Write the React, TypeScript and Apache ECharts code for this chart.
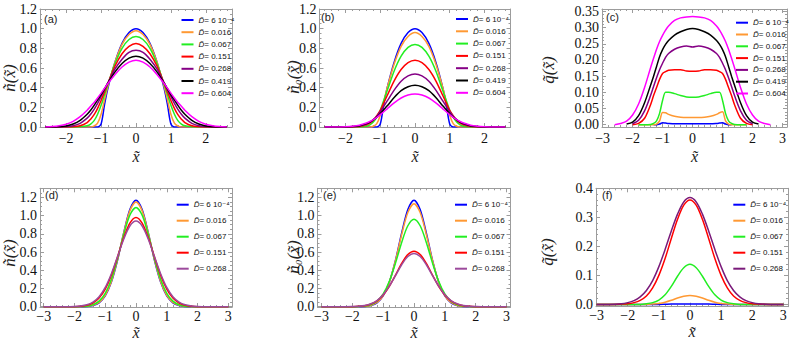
import React, { useEffect, useRef } from 'react';
import * as echarts from 'echarts';

// ---------- data ----------
const X_TOP = [-2.6, -2.4, -2.2, -2.0, -1.8, -1.6, -1.4, -1.3, -1.2, -1.1, -1.0, -0.9, -0.8, -0.6, -0.4, -0.2, 0, 0.2, 0.4, 0.6, 0.8, 0.9, 1.0, 1.1, 1.2, 1.3, 1.4, 1.6, 1.8, 2.0, 2.2, 2.4, 2.6];
const X_BOT = [-3.0, -2.6, -2.2, -2.0, -1.8, -1.6, -1.4, -1.2, -1.0, -0.8, -0.6, -0.4, -0.2, 0, 0.2, 0.4, 0.6, 0.8, 1.0, 1.2, 1.4, 1.6, 1.8, 2.0, 2.2, 2.6, 3.0];

const LABELS_TOP = ['D̃= 6 10⁻⁴', 'D̃= 0.016', 'D̃= 0.067', 'D̃= 0.151', 'D̃= 0.268', 'D̃= 0.419', 'D̃= 0.604'];
const LABELS_BOT = ['D̃= 6 10⁻⁴', 'D̃= 0.016', 'D̃= 0.067', 'D̃= 0.151', 'D̃= 0.268'];

// (a) density n(x)
const A_BLUE = [0, 0, 0, 0, 0, 0, 0, 0, 0, 0, 0.03, 0.23, 0.40, 0.66, 0.85, 0.96, 1.0, 0.96, 0.85, 0.66, 0.40, 0.23, 0.03, 0, 0, 0, 0, 0, 0, 0, 0, 0, 0];
const A_ORANGE = [0, 0, 0, 0, 0, 0, 0, 0, 0.01, 0.04, 0.13, 0.28, 0.42, 0.66, 0.84, 0.94, 0.98, 0.94, 0.84, 0.66, 0.42, 0.28, 0.13, 0.04, 0.01, 0, 0, 0, 0, 0, 0, 0, 0];
const A_GREEN = [0, 0, 0, 0, 0, 0.002, 0.012, 0.03, 0.065, 0.13, 0.22, 0.33, 0.44, 0.645, 0.80, 0.89, 0.92, 0.89, 0.80, 0.645, 0.44, 0.33, 0.22, 0.13, 0.065, 0.03, 0.012, 0.002, 0, 0, 0, 0, 0];
const A_RED = [0, 0, 0, 0, 0.002, 0.012, 0.045, 0.08, 0.125, 0.19, 0.27, 0.36, 0.45, 0.62, 0.745, 0.82, 0.85, 0.82, 0.745, 0.62, 0.45, 0.36, 0.27, 0.19, 0.125, 0.08, 0.045, 0.012, 0.002, 0, 0, 0, 0];
const A_PURPLE = [0, 0, 0, 0.003, 0.012, 0.037, 0.09, 0.13, 0.18, 0.24, 0.31, 0.38, 0.45, 0.59, 0.69, 0.76, 0.78, 0.76, 0.69, 0.59, 0.45, 0.38, 0.31, 0.24, 0.18, 0.13, 0.09, 0.037, 0.012, 0.003, 0, 0, 0];
const A_BLACK = [0, 0, 0.003, 0.01, 0.03, 0.068, 0.13, 0.17, 0.22, 0.275, 0.33, 0.39, 0.45, 0.56, 0.645, 0.70, 0.72, 0.70, 0.645, 0.56, 0.45, 0.39, 0.33, 0.275, 0.22, 0.17, 0.13, 0.068, 0.03, 0.01, 0.003, 0, 0];
const A_MAGENTA = [0, 0.004, 0.012, 0.028, 0.058, 0.105, 0.17, 0.21, 0.25, 0.295, 0.345, 0.395, 0.445, 0.535, 0.61, 0.66, 0.68, 0.66, 0.61, 0.535, 0.445, 0.395, 0.345, 0.295, 0.25, 0.21, 0.17, 0.105, 0.058, 0.028, 0.012, 0.004, 0];

// (b) condensate n0(x)
const B_BLUE = [0, 0, 0, 0, 0, 0, 0, 0, 0, 0, 0.03, 0.23, 0.40, 0.66, 0.85, 0.96, 1.0, 0.96, 0.85, 0.66, 0.40, 0.23, 0.03, 0, 0, 0, 0, 0, 0, 0, 0, 0, 0];
const B_ORANGE = [0, 0, 0, 0, 0, 0, 0, 0, 0.008, 0.035, 0.12, 0.26, 0.40, 0.64, 0.82, 0.92, 0.96, 0.92, 0.82, 0.64, 0.40, 0.26, 0.12, 0.035, 0.008, 0, 0, 0, 0, 0, 0, 0, 0];
const B_GREEN = [0, 0, 0, 0, 0, 0.001, 0.008, 0.022, 0.05, 0.10, 0.17, 0.27, 0.37, 0.57, 0.72, 0.81, 0.84, 0.81, 0.72, 0.57, 0.37, 0.27, 0.17, 0.10, 0.05, 0.022, 0.008, 0.001, 0, 0, 0, 0, 0];
const B_RED = [0, 0, 0, 0, 0.001, 0.005, 0.022, 0.04, 0.07, 0.115, 0.17, 0.245, 0.32, 0.47, 0.585, 0.655, 0.68, 0.655, 0.585, 0.47, 0.32, 0.245, 0.17, 0.115, 0.07, 0.04, 0.022, 0.005, 0.001, 0, 0, 0, 0];
const B_PURPLE = [0, 0, 0, 0, 0.002, 0.01, 0.03, 0.048, 0.075, 0.11, 0.155, 0.21, 0.265, 0.375, 0.465, 0.52, 0.54, 0.52, 0.465, 0.375, 0.265, 0.21, 0.155, 0.11, 0.075, 0.048, 0.03, 0.01, 0.002, 0, 0, 0, 0];
const B_BLACK = [0, 0, 0, 0.001, 0.004, 0.013, 0.034, 0.05, 0.072, 0.10, 0.135, 0.175, 0.215, 0.30, 0.37, 0.41, 0.425, 0.41, 0.37, 0.30, 0.215, 0.175, 0.135, 0.10, 0.072, 0.05, 0.034, 0.013, 0.004, 0.001, 0, 0, 0];
const B_MAGENTA = [0, 0, 0.001, 0.002, 0.007, 0.018, 0.04, 0.056, 0.075, 0.098, 0.125, 0.155, 0.185, 0.245, 0.295, 0.325, 0.335, 0.325, 0.295, 0.245, 0.185, 0.155, 0.125, 0.098, 0.075, 0.056, 0.04, 0.018, 0.007, 0.002, 0.001, 0, 0];

// (c) depletion q(x)
const C_BLUE = [null, null, null, null, null, null, null, 0, 0, 0.002, 0.006, 0.005, 0.004, 0.003, 0.003, 0.003, 0.003, 0.003, 0.003, 0.003, 0.004, 0.005, 0.006, 0.002, 0, 0, null, null, null, null, null, null, null];
const C_ORANGE = [null, null, null, null, 0, 0, 0, 0, 0.002, 0.012, 0.038, 0.037, 0.032, 0.026, 0.023, 0.022, 0.022, 0.022, 0.023, 0.026, 0.032, 0.037, 0.04, 0.012, 0.002, 0, 0, 0, 0, null, null, null, null];
const C_GREEN = [null, null, null, null, 0, 0, 0.001, 0.004, 0.012, 0.035, 0.075, 0.10, 0.10, 0.096, 0.09, 0.086, 0.085, 0.086, 0.09, 0.096, 0.10, 0.10, 0.075, 0.035, 0.012, 0.004, 0.001, 0, 0, null, null, null, null];
const C_RED = [null, null, null, 0, 0.004, 0.02, 0.062, 0.09, 0.115, 0.14, 0.158, 0.164, 0.168, 0.17, 0.17, 0.166, 0.165, 0.166, 0.17, 0.17, 0.168, 0.164, 0.158, 0.14, 0.115, 0.09, 0.062, 0.02, 0.004, 0, null, null, null];
const C_PURPLE = [null, null, null, 0.003, 0.014, 0.043, 0.09, 0.118, 0.145, 0.17, 0.19, 0.208, 0.22, 0.233, 0.24, 0.243, 0.24, 0.243, 0.24, 0.233, 0.22, 0.208, 0.19, 0.17, 0.145, 0.118, 0.09, 0.043, 0.014, 0.003, null, null, null];
const C_BLACK = [null, null, 0.002, 0.008, 0.028, 0.068, 0.122, 0.15, 0.18, 0.21, 0.232, 0.248, 0.26, 0.277, 0.287, 0.294, 0.297, 0.294, 0.287, 0.277, 0.26, 0.248, 0.232, 0.21, 0.18, 0.15, 0.122, 0.068, 0.028, 0.008, 0.002, null, null];
const C_MAGENTA = [0, 0.004, 0.011, 0.03, 0.064, 0.115, 0.176, 0.205, 0.233, 0.257, 0.276, 0.292, 0.305, 0.322, 0.33, 0.333, 0.334, 0.333, 0.33, 0.322, 0.305, 0.292, 0.276, 0.257, 0.233, 0.205, 0.176, 0.115, 0.064, 0.03, 0.011, 0.004, 0];

// (d) density n(x)
const D_BLUE = [0, 0, 0, 0, 0, 0.003, 0.013, 0.043, 0.118, 0.27, 0.51, 0.81, 1.067, 1.17, 1.067, 0.81, 0.51, 0.27, 0.118, 0.043, 0.013, 0.003, 0, 0, 0, 0, 0];
const D_ORANGE = [0, 0, 0, 0, 0.001, 0.004, 0.015, 0.047, 0.124, 0.277, 0.517, 0.806, 1.052, 1.15, 1.052, 0.806, 0.517, 0.277, 0.124, 0.047, 0.015, 0.004, 0.001, 0, 0, 0, 0];
const D_GREEN = [0, 0, 0, 0, 0.002, 0.006, 0.021, 0.061, 0.147, 0.302, 0.53, 0.791, 1.006, 1.09, 1.006, 0.791, 0.53, 0.302, 0.147, 0.061, 0.021, 0.006, 0.002, 0, 0, 0, 0];
const D_RED = [0, 0, 0, 0.001, 0.005, 0.015, 0.041, 0.095, 0.194, 0.347, 0.547, 0.756, 0.918, 0.98, 0.918, 0.756, 0.547, 0.347, 0.194, 0.095, 0.041, 0.015, 0.005, 0.001, 0, 0, 0];
const D_PURPLE = [0, 0, 0.001, 0.002, 0.008, 0.021, 0.051, 0.11, 0.212, 0.363, 0.55, 0.741, 0.886, 0.94, 0.886, 0.741, 0.55, 0.363, 0.212, 0.11, 0.051, 0.021, 0.008, 0.002, 0.001, 0, 0];

// (e) condensate n0(x)
const E_BLUE = [0, 0, 0, 0, 0, 0.003, 0.013, 0.043, 0.118, 0.27, 0.51, 0.81, 1.067, 1.17, 1.067, 0.81, 0.51, 0.27, 0.118, 0.043, 0.013, 0.003, 0, 0, 0, 0, 0];
const E_ORANGE = [0, 0, 0, 0, 0.001, 0.004, 0.014, 0.046, 0.122, 0.271, 0.507, 0.791, 1.034, 1.13, 1.034, 0.791, 0.507, 0.271, 0.122, 0.046, 0.014, 0.004, 0.001, 0, 0, 0, 0];
const E_GREEN = [0, 0, 0, 0, 0.002, 0.007, 0.022, 0.06, 0.14, 0.28, 0.48, 0.706, 0.889, 0.96, 0.889, 0.706, 0.48, 0.28, 0.14, 0.06, 0.022, 0.007, 0.002, 0, 0, 0, 0];
const E_RED = [0, 0, 0, 0.001, 0.004, 0.011, 0.029, 0.064, 0.128, 0.224, 0.348, 0.475, 0.573, 0.61, 0.573, 0.475, 0.348, 0.224, 0.128, 0.064, 0.029, 0.011, 0.004, 0.001, 0, 0, 0];
const E_PURPLE = [0, 0, 0, 0.002, 0.005, 0.013, 0.032, 0.068, 0.132, 0.226, 0.342, 0.461, 0.551, 0.585, 0.551, 0.461, 0.342, 0.226, 0.132, 0.068, 0.032, 0.013, 0.005, 0.002, 0, 0, 0];

// (f) depletion q(x)
const F_BLUE = [0, 0, 0, 0, 0, 0, 0, 0, 0, 0.0005, 0.001, 0.001, 0.001, 0.001, 0.001, 0.001, 0.001, 0.0005, 0, 0, 0, 0, 0, 0, 0, 0, 0];
const F_ORANGE = [0, 0, 0, 0, 0, 0, 0, 0.0013, 0.0034, 0.0075, 0.014, 0.022, 0.028, 0.031, 0.028, 0.022, 0.014, 0.0075, 0.0034, 0.0013, 0, 0, 0, 0, 0, 0, 0];
const F_GREEN = [0, 0, 0, 0, 0, 0, 0.002, 0.006, 0.015, 0.033, 0.062, 0.097, 0.126, 0.138, 0.126, 0.097, 0.062, 0.033, 0.015, 0.006, 0.002, 0, 0, 0, 0, 0, 0];
const F_RED = [0, 0, 0.001, 0.002, 0.006, 0.014, 0.029, 0.057, 0.10, 0.158, 0.227, 0.293, 0.342, 0.36, 0.342, 0.293, 0.227, 0.158, 0.10, 0.057, 0.029, 0.014, 0.006, 0.002, 0.001, 0, 0];
const F_PURPLE = [0, 0, 0.002, 0.006, 0.013, 0.026, 0.048, 0.082, 0.13, 0.189, 0.253, 0.311, 0.353, 0.368, 0.353, 0.311, 0.253, 0.189, 0.13, 0.082, 0.048, 0.026, 0.013, 0.006, 0.002, 0, 0];

// ticks
const X_TICKS_AB = [-2, -1, 0, 1, 2];
const X_TICKS_CF = [-3, -2, -1, 0, 1, 2, 3];
const Y_TICKS_N = [0, 0.2, 0.4, 0.6, 0.8, 1.0, 1.2];
const Y_TICKS_QC = [0, 0.05, 0.1, 0.15, 0.2, 0.25, 0.3, 0.35];
const Y_TICKS_QF = [0, 0.1, 0.2, 0.3, 0.4];

// ---------- styling ----------
const FRAME = '#9c9c9c';
const SERIF = 'Liberation Serif, DejaVu Serif, serif';
const SANS = 'Liberation Sans, DejaVu Sans, sans-serif';
const COL_TOP = ['#0000ff', '#ff9933', '#22ee22', '#ff0000', '#850085', '#000000', '#ff00ff'];
const COL_DE = ['#0000ff', '#ff9933', '#22ee22', '#ff0000', '#9c4a9c'];
const COL_F = ['#0000ff', '#ff9933', '#22ee22', '#ff0000', '#7a1a7a'];

type Panel = {
  key: string;
  grid: { left: number; top: number; width: number; height: number };
  x: [number, number];
  y: [number, number];
  xt: number[];
  yt: number[];
  xMinor: number;
  yMinor: number;
  dec: number;
  xs: number[];
  vals: (number | null)[][];
  colors: string[];
  labels: string[];
  legend: { left: number; top: number; gap: number };
  xNameGap: number;
  xLabelMargin: number;
  ylabel: string;
  ylabelPos: [number, number];
  letterPos: [number, number];
};

const PANELS: Panel[] = [
  {
    key: 'a', grid: { left: 40, top: 9, width: 192, height: 118 }, x: [-2.75, 2.75], y: [0, 1.2],
    xt: X_TICKS_AB, yt: Y_TICKS_N, xMinor: 0.2, yMinor: 0.05, dec: 1, xs: X_TOP,
    vals: [A_BLUE, A_ORANGE, A_GREEN, A_RED, A_PURPLE, A_BLACK, A_MAGENTA], colors: COL_TOP, labels: LABELS_TOP,
    legend: { left: 181.5, top: 15, gap: 2.2 }, xNameGap: 22, xLabelMargin: 4, ylabel: 'ñ(x̃)', ylabelPos: [9, 78], letterPos: [44, 18.5],
  },
  {
    key: 'b', grid: { left: 319.5, top: 9, width: 191, height: 118 }, x: [-2.75, 2.75], y: [0, 1.2],
    xt: X_TICKS_AB, yt: Y_TICKS_N, xMinor: 0.2, yMinor: 0.05, dec: 1, xs: X_TOP,
    vals: [B_BLUE, B_ORANGE, B_GREEN, B_RED, B_PURPLE, B_BLACK, B_MAGENTA], colors: COL_TOP, labels: LABELS_TOP,
    legend: { left: 456, top: 14, gap: 2.3 }, xNameGap: 22, xLabelMargin: 4, ylabel: 'ñ₀(x̃)', ylabelPos: [293, 77], letterPos: [321, 16.5],
  },
  {
    key: 'c', grid: { left: 602, top: 9, width: 185, height: 118 }, x: [-3.02, 3.15], y: [-0.007, 0.3574],
    xt: X_TICKS_CF, yt: Y_TICKS_QC, xMinor: 0.2, yMinor: 0.01, dec: 2, xs: X_TOP,
    vals: [C_BLUE, C_ORANGE, C_GREEN, C_RED, C_PURPLE, C_BLACK, C_MAGENTA], colors: COL_TOP, labels: LABELS_TOP,
    legend: { left: 736, top: 17.7, gap: 1.8 }, xNameGap: 22, xLabelMargin: 4, ylabel: 'q̃(x̃)', ylabelPos: [548, 70], letterPos: [606, 16.7],
  },
  {
    key: 'd', grid: { left: 40, top: 188.3, width: 192, height: 118.7 }, x: [-3.12, 3.12], y: [-0.003, 1.3],
    xt: X_TICKS_CF, yt: Y_TICKS_N, xMinor: 0.2, yMinor: 0.05, dec: 1, xs: X_BOT,
    vals: [D_BLUE, D_ORANGE, D_GREEN, D_RED, D_PURPLE], colors: COL_DE, labels: LABELS_BOT,
    legend: { left: 176.7, top: 199.7, gap: 6 }, xNameGap: 18, xLabelMargin: 2, ylabel: 'ñ(x̃)', ylabelPos: [9, 253], letterPos: [45, 195],
  },
  {
    key: 'e', grid: { left: 317.5, top: 188.3, width: 193, height: 118.7 }, x: [-3.13, 3.13], y: [-0.003, 1.3],
    xt: X_TICKS_CF, yt: Y_TICKS_N, xMinor: 0.2, yMinor: 0.05, dec: 1, xs: X_BOT,
    vals: [E_BLUE, E_ORANGE, E_GREEN, E_RED, E_PURPLE], colors: COL_DE, labels: LABELS_BOT,
    legend: { left: 455, top: 199.7, gap: 6 }, xNameGap: 18, xLabelMargin: 2, ylabel: 'ñ₀(x̃)', ylabelPos: [293, 257], letterPos: [323, 195],
  },
  {
    key: 'f', grid: { left: 596, top: 188.3, width: 192, height: 118.4 }, x: [-3.02, 3.15], y: [-0.008, 0.4],
    xt: X_TICKS_CF, yt: Y_TICKS_QF, xMinor: 0.2, yMinor: 0.02, dec: 1, xs: X_BOT,
    vals: [F_BLUE, F_ORANGE, F_GREEN, F_RED, F_PURPLE], colors: COL_F, labels: LABELS_BOT,
    legend: { left: 733.3, top: 199.7, gap: 6 }, xNameGap: 18, xLabelMargin: 2, ylabel: 'q̃(x̃)', ylabelPos: [547, 252], letterPos: [602, 195],
  },
];

function minorVals(min: number, max: number, step: number, majors: number[]) {
  const out: number[] = [];
  const start = Math.ceil(min / step - 1e-9);
  for (let k = start; k * step <= max + 1e-9; k++) {
    const v = +(k * step).toFixed(6);
    if (!majors.some((m) => Math.abs(m - v) < 1e-9)) out.push(v);
  }
  return out;
}

const TICK_RICH = { t: { fontFamily: SERIF, fontSize: 14, lineHeight: 14, color: '#111' } };
const fmtX = (v: number) => '{t|' + (v < 0 ? '−' + Math.abs(v) : String(v)) + '}';

function buildOption() {
  const grid: any[] = [];
  const xAxis: any[] = [];
  const yAxis: any[] = [];
  const series: any[] = [];
  const legend: any[] = [];
  const graphic: any[] = [];

  PANELS.forEach((p, i) => {
    grid.push({ ...p.grid, containLabel: false, outerBoundsMode: 'none' });
    const tickStyle = { color: FRAME, width: 1 };
    const lineOn = { show: true, onZero: false, lineStyle: tickStyle };
    const lineOff = { show: false, onZero: false };
    const xb = { gridIndex: i, type: 'value', min: p.x[0], max: p.x[1], splitLine: { show: false } };
    const xm = minorVals(p.x[0], p.x[1], p.xMinor, p.xt);
    xAxis.push(
      {
        ...xb, position: 'bottom', axisLine: lineOn,
        axisTick: { show: true, inside: true, length: 4, customValues: p.xt, lineStyle: tickStyle },
        axisLabel: { show: true, customValues: p.xt, formatter: fmtX, fontFamily: SERIF, fontSize: 14, lineHeight: 14, color: '#111', margin: p.xLabelMargin, rich: TICK_RICH },
        name: 'x̃', nameLocation: 'middle', nameGap: p.xNameGap, nameMoveOverlap: false,
        nameTextStyle: { fontFamily: SERIF, fontStyle: 'italic', fontSize: 16, lineHeight: 14, color: '#222', verticalAlign: 'top' },
      },
      { ...xb, position: 'bottom', axisLine: lineOff, axisTick: { show: true, inside: true, length: 2, customValues: xm, lineStyle: tickStyle }, axisLabel: { show: false } },
      { ...xb, position: 'top', axisLine: lineOn, axisTick: { show: true, inside: true, length: 4, customValues: p.xt, lineStyle: tickStyle }, axisLabel: { show: false } },
      { ...xb, position: 'top', axisLine: lineOff, axisTick: { show: true, inside: true, length: 2, customValues: xm, lineStyle: tickStyle }, axisLabel: { show: false } },
    );
    const yb = { gridIndex: i, type: 'value', min: p.y[0], max: p.y[1], splitLine: { show: false } };
    const ym = minorVals(p.y[0], p.y[1], p.yMinor, p.yt);
    yAxis.push(
      {
        ...yb, position: 'left', axisLine: lineOn,
        axisTick: { show: true, inside: true, length: 4, customValues: p.yt, lineStyle: tickStyle },
        axisLabel: { show: true, customValues: p.yt, formatter: (v: number) => '{t|' + v.toFixed(p.dec) + '}', fontFamily: SERIF, fontSize: 14, lineHeight: 14, color: '#111', margin: 3, rich: TICK_RICH },
      },
      { ...yb, position: 'left', axisLine: lineOff, axisTick: { show: true, inside: true, length: 2, customValues: ym, lineStyle: tickStyle }, axisLabel: { show: false } },
      { ...yb, position: 'right', axisLine: lineOn, axisTick: { show: true, inside: true, length: 4, customValues: p.yt, lineStyle: tickStyle }, axisLabel: { show: false } },
      { ...yb, position: 'right', axisLine: lineOff, axisTick: { show: true, inside: true, length: 2, customValues: ym, lineStyle: tickStyle }, axisLabel: { show: false } },
    );

    const names: string[] = [];
    p.vals.forEach((vals, k) => {
      const name = p.labels[k] + '#' + p.key;
      names.push(name);
      series.push({
        type: 'line', name, xAxisIndex: 4 * i, yAxisIndex: 4 * i,
        data: p.xs.map((x, j) => [x, vals[j]]),
        showSymbol: false, symbol: 'none', smooth: 0.3,
        lineStyle: { width: 1.5, color: p.colors[k] },
        itemStyle: { color: p.colors[k] },
        emphasis: { disabled: true },
      });
    });
    legend.push({
      orient: 'vertical', left: p.legend.left, top: p.legend.top, itemWidth: 12, itemHeight: 2, itemGap: p.legend.gap,
      icon: 'rect', padding: 0, selectedMode: false, data: names,
      formatter: (n: string) => '{d|D̃}{v|' + n.split('#')[0].slice(2) + '}',
      textStyle: {
        fontSize: 8, fontFamily: SANS, color: '#111', lineHeight: 10,
        rich: { d: { fontStyle: 'italic', fontSize: 8, fontFamily: SANS, color: '#111' }, v: { fontSize: 8, fontFamily: SANS, color: '#111' } },
      },
    });
    graphic.push(
      {
        type: 'text', x: p.ylabelPos[0], y: p.ylabelPos[1], rotation: Math.PI / 2,
        style: { text: p.ylabel, fontFamily: SERIF, fontStyle: 'italic', fontSize: 17, fill: '#222', align: 'center', verticalAlign: 'middle' },
      },
      {
        type: 'text', x: p.letterPos[0], y: p.letterPos[1],
        style: { text: '(' + p.key + ')', fontFamily: SANS, fontSize: 11, fill: '#222', align: 'left', verticalAlign: 'middle' },
      },
    );
  });

  return { animation: false, backgroundColor: '#fff', textStyle: { fontFamily: SERIF }, grid, xAxis, yAxis, series, legend, graphic };
}

export default function App() {
  const ref = useRef<HTMLDivElement>(null);
  useEffect(() => {
    if (!ref.current) return;
    const chart = echarts.init(ref.current, undefined, { renderer: 'svg' });
    chart.setOption(buildOption() as any);
    return () => chart.dispose();
  }, []);
  return (
    <div style={{ position: 'fixed', left: 0, top: 0, width: 790, height: 341, background: '#fff' }}>
      <div ref={ref} style={{ width: 790, height: 341 }} />
    </div>
  );
}
